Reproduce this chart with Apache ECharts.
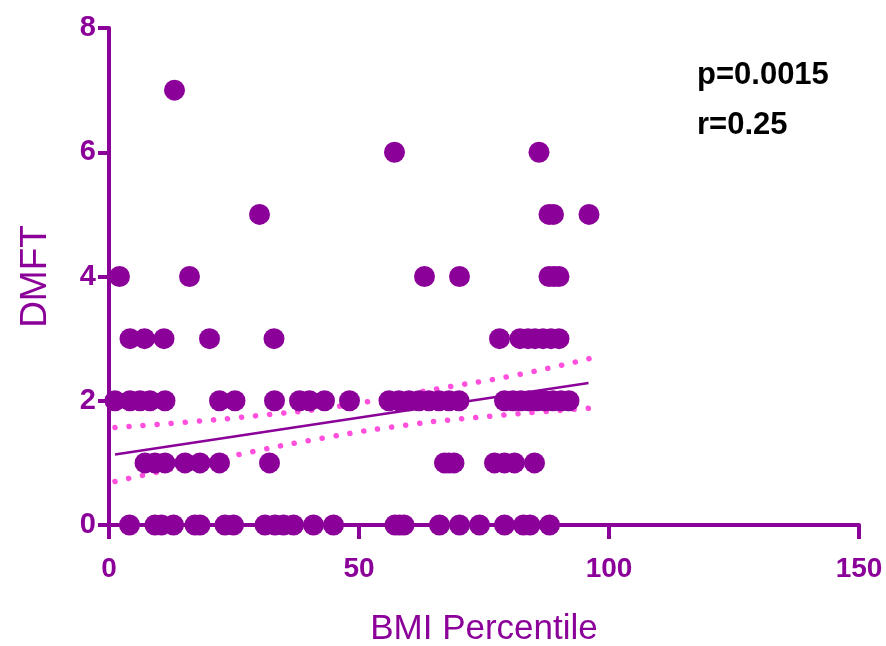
<!DOCTYPE html>
<html>
<head>
<meta charset="utf-8">
<script src="https://cdn.jsdelivr.net/npm/echarts@6/dist/echarts.min.js"></script>
<style>html,body{margin:0;padding:0;background:#fff;}#chart{width:886px;height:646px;}</style>
</head>
<body>
<div id="chart"></div>
<script>
// BMI percentile values of the points at each DMFT level
const dmft0X = [4.1, 9.2, 10.5, 12.9, 17.2, 18.2, 23.2, 24.9, 31.2, 33.2, 34.9, 36.9, 40.9, 44.9, 57.2, 58.1, 59.0, 66.1, 70.1, 74.1, 79.1, 82.9, 84.2, 88.1];
const dmft1X = [7.2, 9.2, 11.2, 15.2, 18.2, 22.1, 32.1, 67.1, 68.0, 69.0, 77.1, 79.1, 81.1, 85.1];
const dmft2X = [1.2, 4.2, 6.2, 8.2, 11.2, 22.1, 25.2, 33.1, 38.1, 40.1, 43.1, 48.1, 56.0, 58.0, 60.0, 62.0, 64.0, 66.0, 68.0, 70.0, 79.1, 80.8, 82.4, 84.0, 85.6, 87.2, 88.8, 90.4, 92.0];
const dmft3X = [4.2, 7.1, 11.0, 20.1, 33.0, 78.1, 82.2, 83.8, 85.2, 86.8, 88.4, 90.0];
const dmft4X = [2.1, 16.1, 63.1, 70.1, 88.0, 89.0, 90.0];
const dmft5X = [30.1, 88.0, 88.9, 96.0];
const dmft6X = [57.1, 86.0];
const dmft7X = [13.1];
const levels = [dmft0X, dmft1X, dmft2X, dmft3X, dmft4X, dmft5X, dmft6X, dmft7X];

// regression line and 95% confidence band
const fitLine = [[1.2, 1.135], [95.9, 2.285]];
const upperBand = [[1.2, 1.57], [16.1, 1.66], [30.9, 1.77], [45.9, 1.91], [66.2, 2.20], [81.2, 2.41], [96.2, 2.68]];
const lowerBand = [[1.2, 0.70], [27.5, 1.16], [42.2, 1.39], [56.9, 1.58], [71.9, 1.72], [96.2, 1.88]];

const xTicks = [0, 50, 100, 150];
const yTicks = [0, 2, 4, 6, 8];
const statsText = ['p=0.0015', 'r=0.25'];

const points = [];
levels.forEach((xs, lvl) => xs.forEach(x => points.push([x, lvl])));

const PURPLE = '#8b0099';
const PINK = '#ff4fdc';
const FONT = '"Liberation Sans", Arial, sans-serif';

const chart = echarts.init(document.getElementById('chart'), null, {renderer: 'canvas'});
chart.setOption({
  backgroundColor: '#fff',
  animation: false,
  grid: {left: 109, right: 27, top: 28, bottom: 121, containLabel: false, outerBoundsMode: 'none'},
  xAxis: {
    type: 'value', min: 0, max: 150, interval: 50,
    name: 'BMI Percentile', nameLocation: 'middle', nameGap: 87,
    nameTextStyle: {color: PURPLE, fontSize: 35, fontFamily: FONT},
    axisLine: {lineStyle: {color: PURPLE, width: 4}},
    axisTick: {show: true, length: 14, lineStyle: {color: PURPLE, width: 4}},
    axisLabel: {color: PURPLE, fontSize: 28, fontWeight: 'bold', fontFamily: FONT, margin: 30,
      formatter: v => xTicks.includes(v) ? String(v) : ''},
    splitLine: {show: false}
  },
  yAxis: {
    type: 'value', min: 0, max: 8, interval: 2,
    name: 'DMFT', nameLocation: 'middle', nameGap: 55,
    nameTextStyle: {color: PURPLE, fontSize: 37, fontFamily: FONT},
    axisLine: {lineStyle: {color: PURPLE, width: 4}},
    axisTick: {show: true, length: 11, lineStyle: {color: PURPLE, width: 4}},
    axisLabel: {color: PURPLE, fontSize: 29, fontWeight: 'bold', fontFamily: FONT, margin: 13,
      formatter: v => yTicks.includes(v) ? String(v) : ''},
    splitLine: {show: false}
  },
  graphic: [
    {type: 'text', left: 697, top: 60, z: 10, style: {text: statsText[0], fill: '#000', font: 'bold 31px ' + FONT}},
    {type: 'text', left: 697, top: 110, z: 10, style: {text: statsText[1], fill: '#000', font: 'bold 31px ' + FONT}}
  ],
  series: [
    {type: 'line', data: upperBand, smooth: true, symbol: 'none', z: 1,
      lineStyle: {color: PINK, width: 5.5, type: [0.1, 14], cap: 'round'}},
    {type: 'line', data: lowerBand, smooth: true, symbol: 'none', z: 1,
      lineStyle: {color: PINK, width: 5.5, type: [0.1, 14], cap: 'round'}},
    {type: 'line', data: fitLine, symbol: 'none', z: 2,
      lineStyle: {color: PURPLE, width: 2.5}},
    {type: 'scatter', data: points, symbol: 'circle', symbolSize: 21, z: 3,
      itemStyle: {color: PURPLE, opacity: 1}}
  ]
});
</script>
</body>
</html>
